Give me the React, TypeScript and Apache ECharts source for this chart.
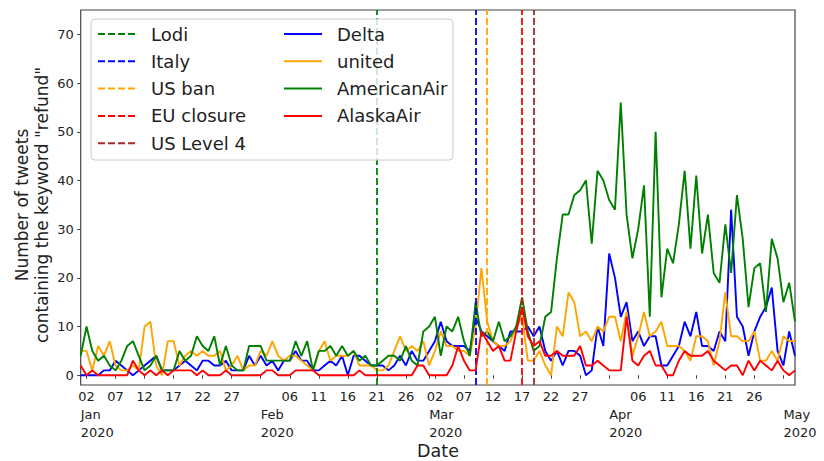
import React, { useEffect, useRef } from "react";
import * as echarts from "echarts";

// Daily counts, one value per day starting 2020-01-01 (index 0) up to 2020-05-03
const delta = [
  0, 0, 0, 0, 1, 1, 3, 2, 1, 0,
  1, 2, 3, 4, 1, 1, 1, 2, 3, 2,
  1, 3, 3, 2, 2, 3, 1, 1, 1, 4,
  2, 4, 2, 3, 1, 3, 3, 5, 3, 3,
  1, 1, 2, 3, 2, 4, 0, 4, 4, 3,
  2, 2, 2, 1, 2, 4, 2, 5, 3, 3,
  5, 7, 11, 7, 6, 6, 6, 5, 12, 9,
  8, 7, 6, 5, 9, 9, 9, 10, 8, 10,
  5, 3, 5, 2, 5, 5, 4, 0, 1, 10,
  6, 25, 20, 12, 15, 7, 9, 6, 8, 8,
  2, 2, 4, 6, 11, 8, 13, 6, 6, 5,
  9, 7, 34, 12, 10, 4, 9, 12, 14, 18,
  5, 2, 9, 4,
];
const united = [
  5, 5, 1, 6, 4, 7, 2, 1, 1, 2,
  1, 10, 11, 2, 0, 7, 7, 2, 4, 5,
  4, 5, 4, 4, 5, 1, 2, 4, 1, 2,
  2, 5, 4, 7, 4, 3, 4, 4, 3, 2,
  1, 5, 7, 3, 4, 4, 4, 5, 2, 2,
  2, 1, 1, 2, 5, 8, 5, 6, 5, 7,
  2, 5, 9, 6, 6, 5, 5, 4, 10, 22,
  11, 7, 6, 6, 7, 10, 12, 3, 3, 5,
  2, 0, 10, 8, 17, 15, 8, 9, 7, 10,
  9, 12, 12, 7, 13, 4, 8, 13, 8, 9,
  11, 6, 6, 6, 5, 3, 8, 8, 7, 2,
  7, 17, 8, 8, 7, 7, 9, 3, 3, 5,
  3, 8, 7, 7,
];
const americanAir = [
  4, 10, 5, 3, 4, 2, 1, 3, 6, 7,
  4, 1, 2, 4, 1, 1, 1, 5, 3, 4,
  8, 6, 5, 8, 2, 6, 2, 1, 1, 6,
  6, 6, 3, 3, 3, 3, 3, 7, 4, 7,
  1, 5, 5, 6, 4, 6, 4, 5, 3, 4,
  2, 2, 3, 4, 4, 3, 6, 3, 2, 9,
  10, 12, 4, 10, 9, 12, 7, 4, 15, 8,
  9, 7, 11, 7, 8, 10, 16, 9, 5, 6,
  12, 13, 24, 33, 33, 37, 38, 40, 27, 42,
  40, 36, 34, 56, 33, 24, 30, 39, 12, 50,
  16, 26, 23, 31, 42, 26, 41, 25, 33, 21,
  19, 31, 21, 37, 28, 14, 22, 23, 13, 28,
  24, 15, 19, 11,
];
const alaskaAir = [
  2, 0, 1, 0, 0, 0, 0, 0, 0, 3,
  1, 0, 1, 0, 1, 0, 1, 1, 1, 1,
  0, 1, 0, 0, 0, 1, 0, 0, 0, 0,
  0, 0, 1, 1, 0, 0, 0, 1, 1, 1,
  1, 0, 0, 0, 0, 0, 0, 0, 1, 0,
  0, 0, 0, 0, 0, 0, 0, 0, 2, 2,
  0, 0, 0, 0, 2, 6, 3, 1, 1, 9,
  7, 5, 6, 3, 3, 9, 14, 8, 6, 7,
  4, 4, 5, 4, 4, 4, 6, 2, 2, 3,
  2, 1, 1, 1, 12, 3, 2, 4, 5, 2,
  2, 0, 0, 3, 5, 4, 4, 4, 5, 3,
  2, 1, 2, 2, 0, 3, 1, 3, 2, 1,
  3, 1, 0, 1,
];

const airlineNames = ["Delta", "united", "AmericanAir", "AlaskaAir"];
const airlineColors = ["#0000ff", "#ffa500", "#008000", "#ff0000"];
const airlineValues = [delta, united, americanAir, alaskaAir];

// Events: day offset from 2020-01-01
const eventNames = ["Lodi", "Italy", "US ban", "EU closure", "US Level 4"];
const eventDays = [51, 68, 70, 76, 78];
const eventColors = ["#008000", "#0000ff", "#ffa500", "#ff0000", "#a52a2a"];

// Axis ticks (day offsets from 2020-01-01)
const minorTickDays = [1, 6, 11, 16, 21, 26, 31, 36, 41, 46, 51, 56, 61, 66, 71, 76, 81, 86, 91, 96, 101, 106, 111, 116, 121];
const monthStartDays = [0, 31, 60, 91, 121];
const monthLabels = ["Jan", "Feb", "Mar", "Apr", "May"];
const yearLabel = "2020";
const yTicks = [0, 10, 20, 30, 40, 50, 60, 70];

const FONT = "DejaVu Sans";
const TEXT = "#222";

export default function App() {
  const ref = useRef<HTMLDivElement>(null);
  useEffect(() => {
    if (!ref.current) return;
    const chart = echarts.init(ref.current, null, { renderer: "svg" });
    const minorLabelDays = minorTickDays.filter((d) => monthStartDays.indexOf(d) < 0);
    const allTicks = Array.from(new Set([...minorTickDays, ...monthStartDays])).sort((a, b) => a - b);
    const dash = [7, 3];

    const eventSeries = eventNames.map((name, i) => ({
      name,
      type: "line",
      data: [],
      symbol: "none",
      color: eventColors[i],
      lineStyle: { color: eventColors[i], width: 1.8, type: dash },
      z: 1,
      markLine: {
        silent: true,
        symbol: "none",
        label: { show: false },
        lineStyle: { color: eventColors[i], width: 1.8, type: dash },
        data: [{ xAxis: eventDays[i] }],
      },
    }));
    const airlineSeries = airlineNames.map((name, i) => ({
      name,
      type: "line",
      data: airlineValues[i].map((v, d) => [d, v]),
      symbol: "none",
      color: airlineColors[i],
      lineStyle: { color: airlineColors[i], width: 1.9 },
      z: 2 + i,
    }));

    const legendCommon = {
      orient: "vertical",
      top: 25,
      padding: 0,
      itemGap: 9.3,
      itemWidth: 38,
      itemHeight: 14,
      itemStyle: { opacity: 0, borderWidth: 0 },
      textStyle: { fontSize: 18, lineHeight: 18, color: TEXT, fontFamily: FONT, padding: [0, 0, 0, 10] },
      z: 20,
    };

    chart.setOption({
      animation: false,
      backgroundColor: "#ffffff",
      grid: {
        left: 80.7,
        right: 29,
        top: 10,
        bottom: 76,
        show: true,
        borderColor: "#444",
        borderWidth: 1.2,
        backgroundColor: "transparent",
      },
      legend: [
        { ...legendCommon, left: 97, data: eventNames },
        { ...legendCommon, left: 283, data: airlineNames },
      ],
      xAxis: [
        {
          type: "value",
          min: 0,
          max: 123,
          axisLine: { show: false },
          splitLine: { show: false },
          axisTick: { show: true, customValues: allTicks, length: 3.5, lineStyle: { color: "#444", width: 1 } },
          axisLabel: {
            customValues: minorLabelDays,
            formatter: (v: number) => {
              const dt = new Date(2020, 0, 1 + Math.round(v));
              const d = dt.getDate();
              return (d < 10 ? "0" : "") + d;
            },
            fontSize: 13,
            color: TEXT,
            fontFamily: FONT,
            margin: 5,
          },
        },
        {
          type: "value",
          min: 0,
          max: 123,
          position: "bottom",
          axisLine: { show: false },
          splitLine: { show: false },
          axisTick: { show: false },
          axisLabel: {
            customValues: monthStartDays,
            formatter: (v: number) => {
              const idx = monthStartDays.indexOf(Math.round(v));
              return (idx >= 0 ? monthLabels[idx] : "") + "\n" + yearLabel;
            },
            align: "left",
            fontSize: 13,
            lineHeight: 17.5,
            color: TEXT,
            fontFamily: FONT,
            margin: 21,
          },
        },
      ],
      yAxis: {
        type: "value",
        min: -2,
        max: 75,
        axisLine: { show: false },
        splitLine: { show: false },
        axisTick: { show: true, customValues: yTicks, length: 3.5, lineStyle: { color: "#444", width: 1 } },
        axisLabel: { customValues: yTicks, fontSize: 13, color: TEXT, fontFamily: FONT, margin: 7 },
      },
      graphic: [
        {
          type: "rect",
          z: 15,
          shape: { x: 91, y: 19, width: 362, height: 141, r: 4 },
          style: { fill: "rgba(255,255,255,0.8)", stroke: "#cccccc", lineWidth: 1 },
        },
        {
          type: "text",
          x: 438,
          y: 451,
          style: { text: "Date", fontSize: 17.5, fontFamily: FONT, fill: TEXT, align: "center", verticalAlign: "middle" },
        },
        {
          type: "text",
          x: 31.7,
          y: 205,
          rotation: Math.PI / 2,
          style: {
            text: 'Number of tweets\ncontaining the keyword "refund"',
            fontSize: 17,
            lineHeight: 20,
            fontFamily: FONT,
            fill: TEXT,
            align: "center",
            verticalAlign: "middle",
          },
        },
      ],
      series: [...eventSeries, ...airlineSeries],
    });
    return () => chart.dispose();
  }, []);
  return <div ref={ref} style={{ position: "fixed", left: 0, top: 0, width: 824, height: 461, background: "#fff" }} />;
}
